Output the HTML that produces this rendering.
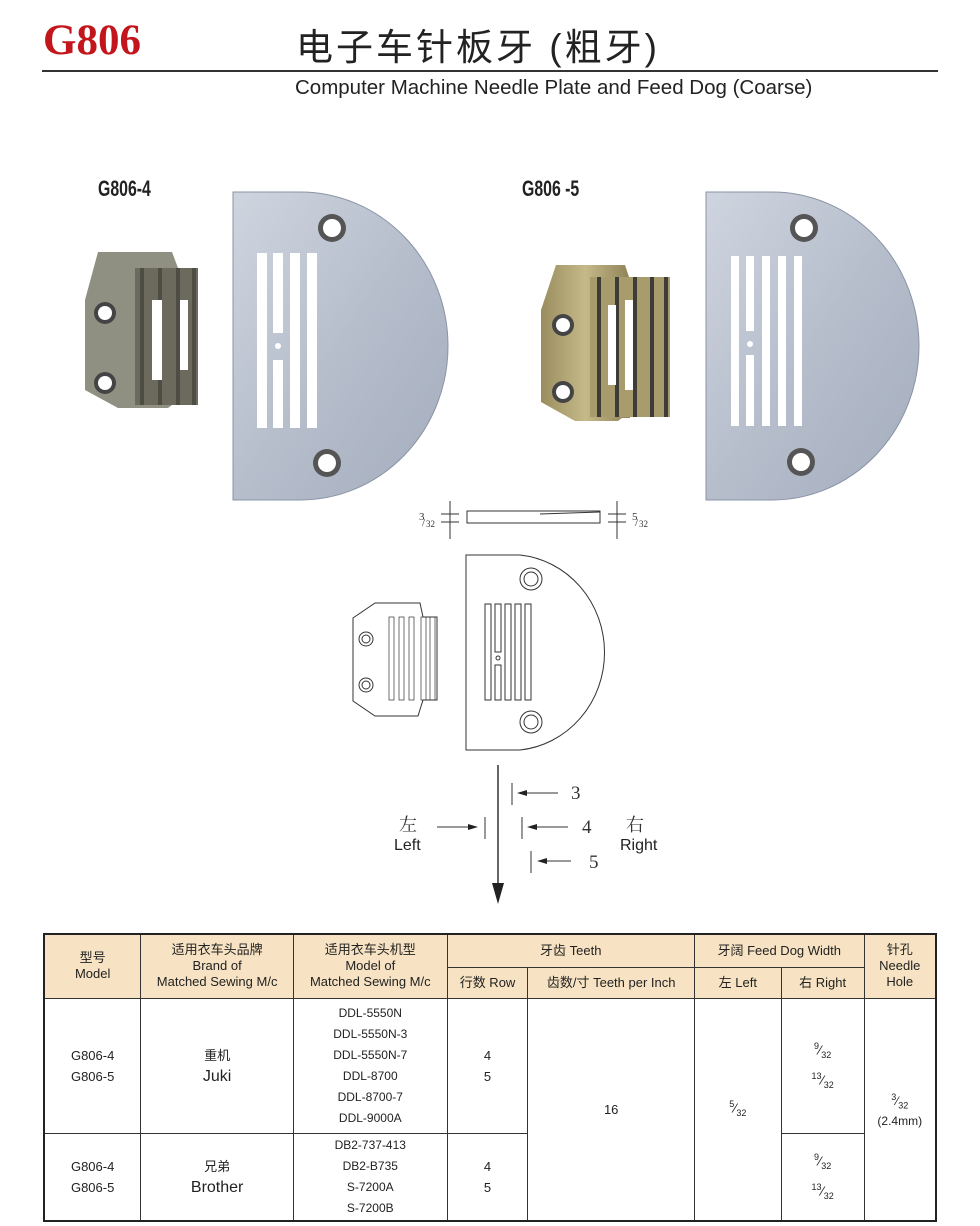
<!DOCTYPE html>
<html><head><meta charset="utf-8"><style>
body{margin:0;background:#fff;width:980px;height:1226px;position:relative;overflow:hidden;font-family:"Liberation Sans","Noto Sans CJK SC",sans-serif}
.a{position:absolute;white-space:nowrap}
table{position:absolute;left:43px;top:933px;width:894px;border-collapse:collapse;font-size:13px;color:#222}
td{border:1.5px solid #333;text-align:center;padding:0;line-height:21px}
.h td{background:#f7e3c3;line-height:16px}
.o{border:2.5px solid #222}
</style></head><body>
<div class="a" style="left:43px;top:16px;font-family:'Liberation Serif',serif;font-weight:bold;font-size:43px;color:#c3161c">G806</div>
<div class="a" style="left:296px;top:17px;font-size:37px;letter-spacing:3px;color:#222;font-family:'Liberation Sans','Noto Sans CJK SC',sans-serif">电子车针板牙 (粗牙)</div>
<div class="a" style="left:42px;top:70px;width:896px;height:2px;background:#333"></div>
<div class="a" style="left:295px;top:76px;font-size:20.5px;color:#222">Computer Machine Needle Plate and Feed Dog (Coarse)</div>
<div class="a" style="left:98px;top:176px;font-size:22px;font-weight:bold;color:#222;transform:scaleX(.72);transform-origin:left">G806-4</div>
<div class="a" style="left:522px;top:176px;font-size:22px;font-weight:bold;color:#222;transform:scaleX(.72);transform-origin:left">G806 -5</div>
<svg class="a" style="left:0;top:0" width="980" height="930">
<defs><linearGradient id="pl" x1="0" x2="1" y1="0" y2="1"><stop offset="0" stop-color="#cfd5df"/><stop offset=".5" stop-color="#b6becc"/><stop offset="1" stop-color="#a4adbd"/></linearGradient>
<linearGradient id="br" x1="0" x2="1"><stop offset="0" stop-color="#9a8d5e"/><stop offset=".5" stop-color="#c5b98a"/><stop offset="1" stop-color="#8e8258"/></linearGradient></defs>
<g>
<path d="M233 192 H300 A148 154 0 0 1 300 500 H233 Z" fill="url(#pl)" stroke="#8a94a6"/>
<circle cx="332" cy="228" r="14" fill="#555"/><circle cx="332" cy="228" r="9" fill="#fff"/>
<circle cx="327" cy="463" r="14" fill="#555"/><circle cx="327" cy="463" r="9" fill="#fff"/>
<rect x="257" y="253" width="10" height="175" fill="#fff"/>
<rect x="273" y="253" width="10" height="80" fill="#fff"/><rect x="273" y="360" width="10" height="68" fill="#fff"/>
<circle cx="278" cy="346" r="3" fill="#fff"/>
<rect x="290" y="253" width="10" height="175" fill="#fff"/><rect x="307" y="253" width="10" height="175" fill="#fff"/>
</g>
<path d="M98 252 H172 L178 268 V405 H172 L168 408 H118 L85 390 V300 Z" fill="#8f8f82"/>
<rect x="135" y="268" width="63" height="137" fill="#6b6a5c"/>
<g fill="#4e4d43"><rect x="140" y="268" width="4" height="137"/><rect x="158" y="268" width="4" height="137"/><rect x="176" y="268" width="4" height="137"/><rect x="192" y="268" width="4" height="137"/></g>
<rect x="152" y="300" width="10" height="80" fill="#fff"/><rect x="180" y="300" width="8" height="70" fill="#fff"/>
<circle cx="105" cy="313" r="11" fill="#444"/><circle cx="105" cy="313" r="7" fill="#fff"/>
<circle cx="105" cy="383" r="11" fill="#444"/><circle cx="105" cy="383" r="7" fill="#fff"/>
<g>
<path d="M706 192 H772 A147 154 0 0 1 772 500 H706 Z" fill="url(#pl)" stroke="#8a94a6"/>
<circle cx="804" cy="228" r="14" fill="#555"/><circle cx="804" cy="228" r="9" fill="#fff"/>
<circle cx="801" cy="462" r="14" fill="#555"/><circle cx="801" cy="462" r="9" fill="#fff"/>
<rect x="731" y="256" width="8" height="170" fill="#fff"/>
<rect x="746" y="256" width="8" height="75" fill="#fff"/><rect x="746" y="355" width="8" height="71" fill="#fff"/>
<circle cx="750" cy="344" r="3" fill="#fff"/>
<rect x="762" y="256" width="8" height="170" fill="#fff"/><rect x="778" y="256" width="8" height="170" fill="#fff"/><rect x="794" y="256" width="8" height="170" fill="#fff"/>
</g>
<path d="M556 265 H625 L630 280 V418 H622 L618 421 H575 L541 402 V310 Z" fill="url(#br)"/>
<rect x="590" y="277" width="80" height="140" fill="#a89c6c"/>
<g fill="#3d3c36"><rect x="597" y="277" width="4" height="140"/><rect x="615" y="277" width="4" height="140"/><rect x="633" y="277" width="4" height="140"/><rect x="650" y="277" width="4" height="140"/><rect x="664" y="277" width="4" height="140"/></g>
<rect x="608" y="305" width="8" height="80" fill="#fff"/><rect x="625" y="300" width="8" height="90" fill="#fff"/>
<circle cx="563" cy="325" r="11" fill="#444"/><circle cx="563" cy="325" r="7" fill="#fff"/>
<circle cx="563" cy="392" r="11" fill="#444"/><circle cx="563" cy="392" r="7" fill="#fff"/>
<g stroke="#333" fill="none" stroke-width="1">
<rect x="467" y="511" width="133" height="12"/><path d="M540 514 L600 512"/>
<path d="M450 501 V539 M441 514 H459 M441 522 H459 M617 501 V539 M608 514 H626 M608 522 H626"/>
<path d="M466 555 H520 A94 98 0 0 1 520 750 H466 Z"/>
<circle cx="531" cy="579" r="11"/><circle cx="531" cy="579" r="7"/>
<circle cx="531" cy="722" r="11"/><circle cx="531" cy="722" r="7"/>
<rect x="485" y="604" width="6" height="96"/><rect x="495" y="604" width="6" height="48"/><rect x="495" y="665" width="6" height="35"/><circle cx="498" cy="658" r="2"/>
<rect x="505" y="604" width="6" height="96"/><rect x="515" y="604" width="6" height="96"/><rect x="525" y="604" width="6" height="96"/>
<path d="M375 603 H420 L423 617 H437 V700 H423 L418 716 H375 L353 701 V618 Z"/>
<circle cx="366" cy="639" r="7"/><circle cx="366" cy="639" r="4"/><circle cx="366" cy="685" r="7"/><circle cx="366" cy="685" r="4"/>
<g stroke-width=".7"><rect x="389" y="617" width="5" height="83"/><rect x="399" y="617" width="5" height="83"/><rect x="409" y="617" width="5" height="83"/><rect x="421" y="617" width="5" height="83"/><rect x="430" y="617" width="5" height="83"/></g>
<path d="M498 765 V885" stroke-width="1.5"/>
<path d="M512 783 V805 M522 817 V839 M531 851 V873 M485 817 V839"/>
<path d="M520 793 H558 M530 827 H568 M540 861 H571 M437 827 H475"/>
</g>
<g fill="#222"><path d="M492 883 L504 883 L498 904 Z"/><path d="M517 793 L527 790 L527 796Z"/><path d="M527 827 L537 824 L537 830Z"/><path d="M537 861 L547 858 L547 864Z"/><path d="M478 827 L468 824 L468 830Z"/></g>
<g font-family="Liberation Serif,serif" font-size="11" fill="#333"><text x="419" y="520">3</text><text x="422" y="526">/</text><text x="426" y="527" font-size="9">32</text>
<text x="632" y="520">5</text><text x="635" y="526">/</text><text x="639" y="527" font-size="9">32</text></g>
<g font-family="Liberation Serif,serif" font-size="19" fill="#333"><text x="571" y="799">3</text><text x="582" y="833">4</text><text x="589" y="868">5</text></g>
<g font-family="Noto Serif CJK SC,serif" font-size="18" fill="#333"><text x="399" y="831">左</text><text x="626" y="831">右</text></g>
<g font-family="Liberation Sans,sans-serif" font-size="16" fill="#222"><text x="394" y="850">Left</text><text x="620" y="850">Right</text></g>
</svg>
<table class="o">
<colgroup><col style="width:97px"><col style="width:153px"><col style="width:154px"><col style="width:81px"><col style="width:167px"><col style="width:87px"><col style="width:83px"><col style="width:72px"></colgroup>
<tr class="h" style="height:33px"><td rowspan="2">型号<br>Model</td><td rowspan="2">适用衣车头品牌<br>Brand of<br>Matched Sewing M/c</td><td rowspan="2">适用衣车头机型<br>Model of<br>Matched Sewing M/c</td><td colspan="2">牙齿 Teeth</td><td colspan="2">牙阔 Feed Dog Width</td><td rowspan="2">针孔<br>Needle<br>Hole</td></tr>
<tr class="h" style="height:31px"><td>行数 Row</td><td>齿数/寸 Teeth per Inch</td><td>左 Left</td><td>右 Right</td></tr>
<tr style="height:135px"><td>G806-4<br>G806-5</td><td>重机<br><span style="font-size:16px">Juki</span></td><td style="font-size:12px">DDL-5550N<br>DDL-5550N-3<br>DDL-5550N-7<br>DDL-8700<br>DDL-8700-7<br>DDL-9000A</td><td>4<br>5</td><td rowspan="2">16</td><td rowspan="2"><sup style="font-size:9px">5</sup>⁄<sub style="font-size:9px">32</sub></td><td><sup style="font-size:9px">9</sup>⁄<sub style="font-size:9px">32</sub><br><sup style="font-size:9px">13</sup>⁄<sub style="font-size:9px">32</sub></td><td rowspan="2" style="font-size:12px;line-height:16px"><sup style="font-size:9px">3</sup>⁄<sub style="font-size:9px">32</sub><br>(2.4mm)</td></tr>
<tr style="height:88px"><td>G806-4<br>G806-5</td><td>兄弟<br><span style="font-size:16px">Brother</span></td><td style="font-size:12px">DB2-737-413<br>DB2-B735<br>S-7200A<br>S-7200B</td><td>4<br>5</td><td><sup style="font-size:9px">9</sup>⁄<sub style="font-size:9px">32</sub><br><sup style="font-size:9px">13</sup>⁄<sub style="font-size:9px">32</sub></td></tr>
</table>
</body></html>
